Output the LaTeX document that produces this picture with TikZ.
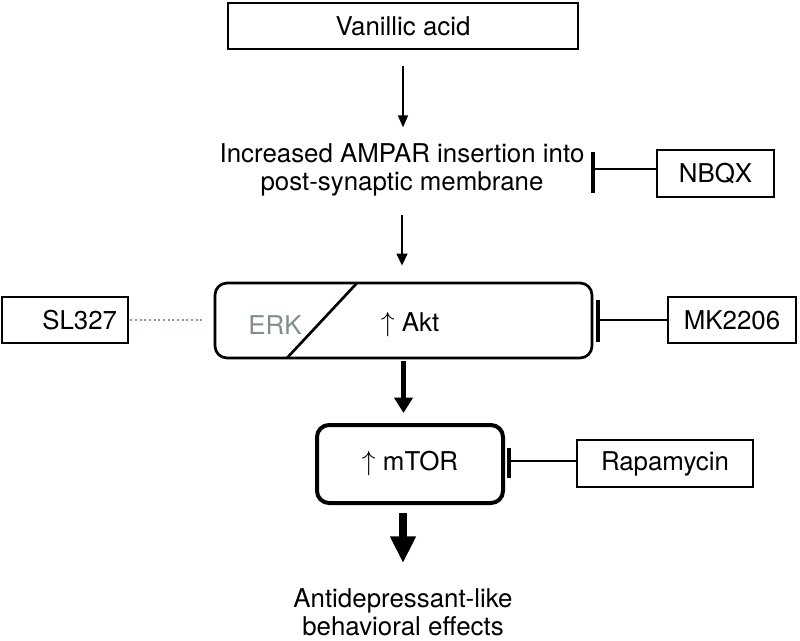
\documentclass[tikz,border=0pt]{standalone}
\usepackage{fontspec}
\setmainfont{TeX Gyre Heros}
\usetikzlibrary{arrows.meta,calc}
\definecolor{erkgray}{RGB}{128,142,142}
\definecolor{dotgray}{RGB}{140,150,150}
\begin{document}
\begin{tikzpicture}[x=0.75pt,y=-0.75pt,
  every node/.style={font=\fontsize{19.4}{21}\selectfont, inner sep=0pt},
  box/.style={draw, line width=1.25pt},
  thinarrow/.style={line width=1.2pt, -{Triangle[length=9pt,width=7.5pt]}},
  medarrow/.style={line width=1.6pt, -{Triangle[length=9pt,width=8pt]}},
  bigarrow/.style={line width=3.75pt, -{Triangle[length=11.5pt,width=13.5pt]}},
  hugearrow/.style={line width=6pt, -{Triangle[length=20pt,width=18pt]}},
  inhib/.style={line width=1.8pt},
  inhibbar/.style={line width=2.3pt}]
\useasboundingbox (0,0) rectangle (800,640);

% nodes
\node[box, minimum width=262.5pt, minimum height=34.5pt] (van) at (403,26) {Vanillic acid};
\node[align=center] (ampar) at (402,169.5) {Increased AMPAR insertion into\\post-synaptic membrane};
\node[box, minimum width=87.75pt, minimum height=35.25pt] (nbqx) at (715.5,173.5) {NBQX};
\node[draw, line width=2pt, rounded corners=9pt, minimum width=282.75pt, minimum height=56.25pt] (akt) at (403.5,320.5) {};
\node[text=erkgray] (erk) at (275,325) {ERK};
\node (aktt) at (410,325) {$\uparrow$ Akt};
\node[box, minimum width=96pt, minimum height=34.5pt] (mk) at (732,320) {MK2206};
\node[box, minimum width=94.5pt, minimum height=34.5pt] (sl) at (65,320) {\hspace*{22pt}SL327};
\node[draw, line width=3pt, rounded corners=9pt, minimum width=139.5pt, minimum height=58.5pt] (mtor) at (410,464) {$\uparrow$ mTOR};
\node[box, minimum width=132pt, minimum height=35.25pt] (rapa) at (665,463.5) {Rapamycin};
\node[align=center] (final) at (403,612) {Antidepressant-like\\behavioral effects};

% diagonal divider inside the Akt box
\draw[line width=2pt] (357,283) -- (287,358);

% activating arrows
\draw[thinarrow, shorten <=12pt, shorten >=11.7pt] (van.south) -- (van.south |- ampar.north);
\draw[medarrow, shorten <=14pt, shorten >=12pt] (ampar.south) -- (ampar.south |- akt.north);
\draw[bigarrow, shorten <=1.5pt, shorten >=7.5pt] (akt.south) -- (akt.south |- mtor.north);
\draw[hugearrow, shorten <=6pt, shorten >=18.75pt] (final.north |- mtor.south) -- (final.north);

% inhibitors
\coordinate (nbbar) at (593,169);
\draw[inhib] (nbqx.west |- nbbar) -- (nbbar);
\draw[inhibbar] ($(nbbar)+(0,-17)$) -- ($(nbbar)+(0,24)$);

\coordinate (mkbar) at (598,320);
\draw[inhib] (mk.west) -- (mkbar);
\draw[inhibbar] ($(mkbar)+(0,-20)$) -- ($(mkbar)+(0,22)$);

\coordinate (rpbar) at (509,461);
\draw[inhib] (rapa.west |- rpbar) -- (rpbar);
\draw[inhibbar] ($(rpbar)+(0,-13)$) -- ($(rpbar)+(0,17)$);

% SL327 dotted connection
\draw[dotgray, line width=1.5pt, dash pattern=on 1.5pt off 2pt, shorten <=1pt, shorten >=9pt] (sl.east) -- (sl.east -| akt.west);
\end{tikzpicture}
\end{document}
